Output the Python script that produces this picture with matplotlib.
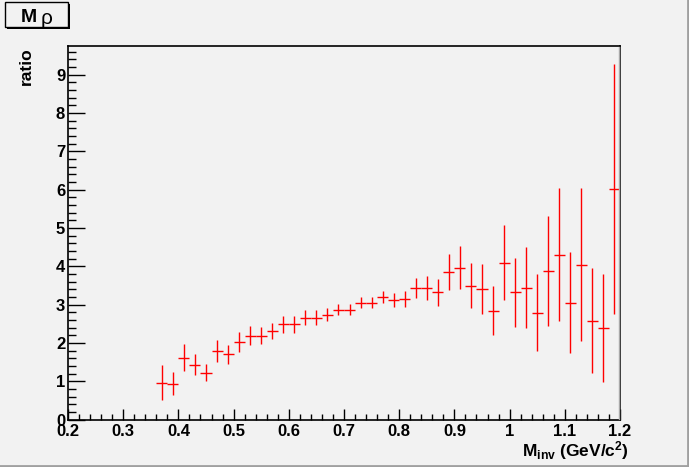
import numpy as np
import matplotlib
matplotlib.use("Agg")
import matplotlib.pyplot as plt
from matplotlib.patches import Rectangle
from matplotlib.lines import Line2D
from matplotlib.ticker import MultipleLocator

# bin centres (width 0.02) and ratio values
mass = [0.37, 0.39, 0.41, 0.43, 0.45, 0.47, 0.49, 0.51, 0.53, 0.55,
        0.57, 0.59, 0.61, 0.63, 0.65, 0.67, 0.69, 0.71, 0.73, 0.75,
        0.77, 0.79, 0.81, 0.83, 0.85, 0.87, 0.89, 0.91, 0.93, 0.95,
        0.97, 0.99, 1.01, 1.03, 1.05, 1.07, 1.09, 1.11, 1.13, 1.15,
        1.17, 1.19]
ratio = [0.96, 0.93, 1.61, 1.43, 1.22, 1.79, 1.70, 2.03, 2.19, 2.19,
         2.31, 2.48, 2.48, 2.66, 2.66, 2.74, 2.87, 2.87, 3.05, 3.05,
         3.20, 3.11, 3.15, 3.44, 3.44, 3.32, 3.86, 3.96, 3.49, 3.41,
         2.84, 4.09, 3.32, 3.44, 2.79, 3.88, 4.30, 3.05, 4.04, 2.58,
         2.39, 6.02]
err = [0.45, 0.30, 0.35, 0.27, 0.22, 0.28, 0.25, 0.26, 0.24, 0.23,
       0.22, 0.22, 0.22, 0.20, 0.20, 0.16, 0.15, 0.15, 0.15, 0.14,
       0.16, 0.18, 0.21, 0.26, 0.31, 0.35, 0.47, 0.56, 0.59, 0.65,
       0.64, 0.98, 0.90, 1.05, 1.00, 1.43, 1.74, 1.31, 2.00, 1.37,
       1.41, 3.27]
half_bin = 0.01

W, H = 689, 467
bg = "#f2f2f2"
plt.rcParams["font.family"] = ["Liberation Sans", "DejaVu Sans"]
plt.rcParams["mathtext.fontset"] = "custom"
plt.rcParams["mathtext.rm"] = "Liberation Sans:bold"
plt.rcParams["mathtext.it"] = "Liberation Sans:bold"
plt.rcParams["mathtext.bf"] = "Liberation Sans:bold"
plt.rcParams["mathtext.default"] = "rm"

fig = plt.figure(figsize=(W / 100, H / 100), dpi=100, facecolor=bg)
ax = fig.add_axes([68 / W, 1 - 419.5 / H, 552 / W, 373.5 / H], facecolor=bg)

ax.errorbar(mass, ratio, xerr=half_bin, yerr=err, fmt="none",
            ecolor="#ff0000", elinewidth=1.0, capsize=0)

ax.set_xlim(0.2, 1.2)
ax.set_ylim(0, 9.75)
ax.xaxis.set_minor_locator(MultipleLocator(0.02))
ax.yaxis.set_minor_locator(MultipleLocator(0.2))
ax.set_xticks(np.arange(0.2, 1.21, 0.1))
ax.set_xticklabels(["0.2", "0.3", "0.4", "0.5", "0.6", "0.7", "0.8", "0.9", "1", "1.1", "1.2"])
ax.set_yticks(range(10))

ax.tick_params(axis="both", which="both", direction="in", top=False, right=False,
               labelsize=12, width=1, color="black")
ax.tick_params(axis="y", which="major", length=12, pad=2)
ax.tick_params(axis="y", which="minor", length=6)
ax.tick_params(axis="x", which="major", length=8, pad=3)
ax.tick_params(axis="x", which="minor", length=4)
for lab in ax.get_xticklabels() + ax.get_yticklabels():
    lab.set_fontweight("bold")
for sp in ax.spines.values():
    sp.set_linewidth(1.2)

# axis titles
fig.text(26 / W, 1 - 47 / H, "ratio", rotation=90, ha="center", va="top",
         fontsize=12.5, fontweight="bold")
fig.text(629 / W, 1 - 456 / H, r"M$_{inv}$ (GeV/c$^{2}$)", ha="right",
         va="baseline", fontsize=12.5, fontweight="bold")

# title box with shadow
fig.add_artist(Rectangle((7 / W, 1 - 29 / H), 63 / W, 25 / H, transform=fig.transFigure,
                         facecolor="black", edgecolor="none"))
fig.add_artist(Rectangle((5 / W, 1 - 27 / H), 63 / W, 25 / H, transform=fig.transFigure,
                         facecolor=bg, edgecolor="black", linewidth=1))
fig.text(29 / W, 1 - 17 / H, "M", ha="center", va="center", fontsize=14, fontweight="bold")
fig.text(47 / W, 1 - 19 / H, "\u03c1", ha="center", va="center", fontsize=15)

# bevel of frame and canvas
fig.add_artist(Line2D([618.5 / W, 618.5 / W], [1 - 47 / H, 1 - 419 / H],
                      transform=fig.transFigure, color="#a8a8a8", lw=1))
fig.add_artist(Line2D([687.5 / W, 687.5 / W], [0, 1], transform=fig.transFigure,
                      color="#a0a0a0", lw=2))
fig.add_artist(Line2D([0, 1], [1 / H, 1 / H], transform=fig.transFigure,
                      color="#a0a0a0", lw=2))

fig.savefig("out.png", dpi=100, facecolor=bg)
